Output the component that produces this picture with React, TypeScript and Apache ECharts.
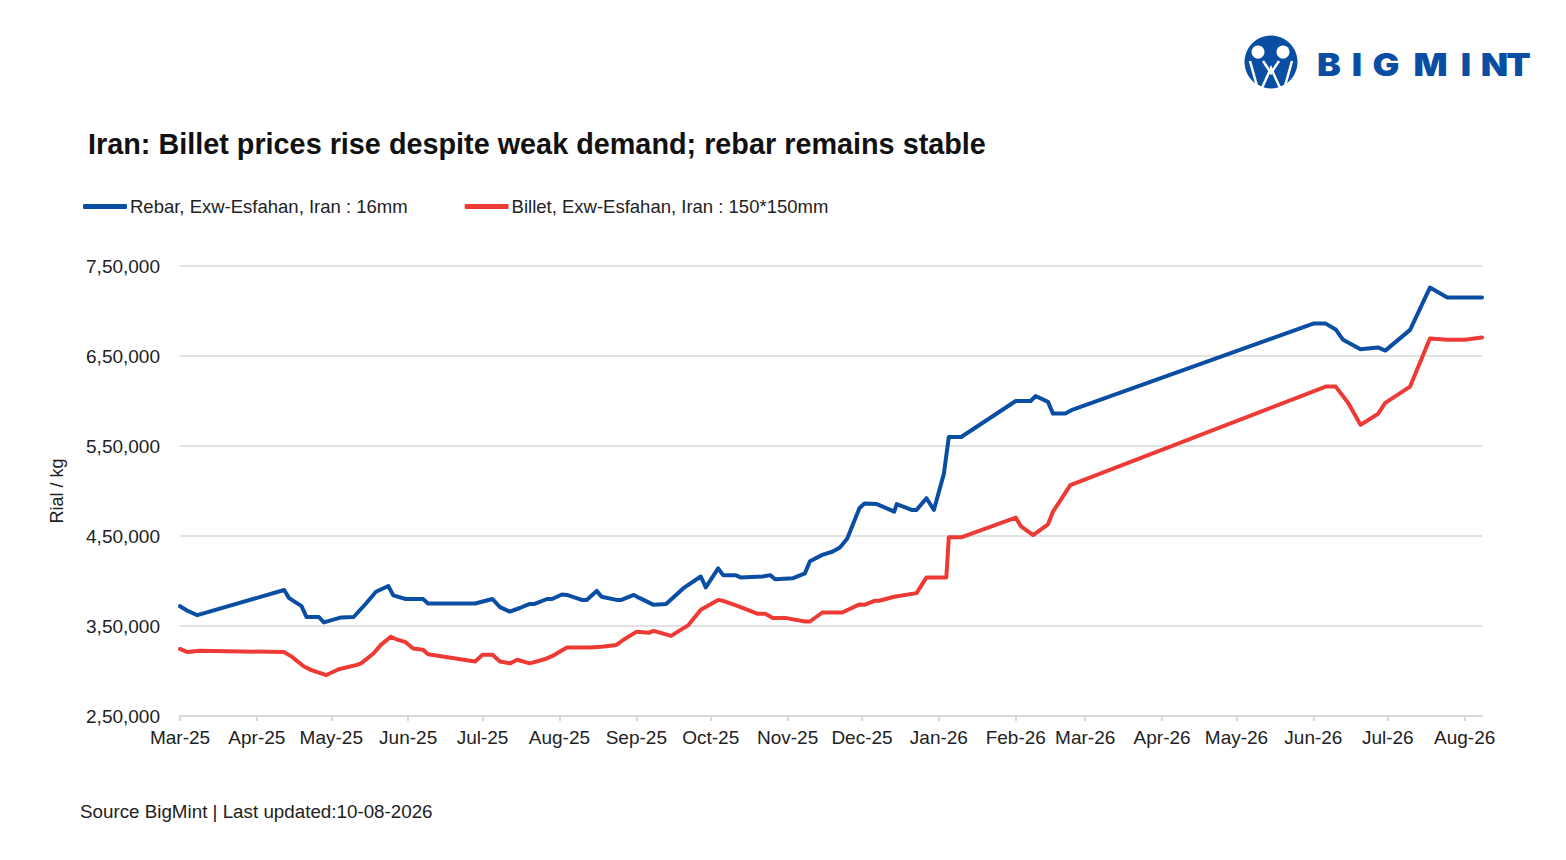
import React, { useEffect, useRef } from "react";
import * as echarts from "echarts";

const rebarDates = [
  "2025-03-01","2025-03-04","2025-03-08","2025-04-12","2025-04-14","2025-04-19","2025-04-21","2025-04-26","2025-04-28",
  "2025-05-05","2025-05-10","2025-05-15","2025-05-19","2025-05-24","2025-05-26","2025-05-31","2025-06-07","2025-06-09",
  "2025-06-28","2025-07-05","2025-07-08","2025-07-12","2025-07-16","2025-07-20","2025-07-22","2025-07-27","2025-07-29",
  "2025-08-02","2025-08-04","2025-08-10","2025-08-12","2025-08-16","2025-08-18","2025-08-24","2025-08-26","2025-08-31",
  "2025-09-02","2025-09-08","2025-09-13","2025-09-20","2025-09-27","2025-09-29","2025-10-04","2025-10-06","2025-10-11",
  "2025-10-13","2025-10-22","2025-10-25","2025-10-27","2025-11-03","2025-11-08","2025-11-10","2025-11-15","2025-11-19",
  "2025-11-22","2025-11-25","2025-11-30","2025-12-02","2025-12-07","2025-12-14","2025-12-15","2025-12-21","2025-12-23",
  "2025-12-27","2025-12-30","2026-01-03","2026-01-05","2026-01-10","2026-02-01","2026-02-07","2026-02-09","2026-02-14",
  "2026-02-16","2026-02-21","2026-02-24","2026-06-01","2026-06-06","2026-06-10","2026-06-13","2026-06-20","2026-06-27",
  "2026-06-30","2026-07-10","2026-07-18","2026-07-25","2026-08-08"
];
const rebarValues = [
  372000,367000,362000,390000,381000,372000,360000,360000,354000,
  359500,360000,375000,388000,394500,384000,380000,380000,375000,
  375000,380000,371000,366000,370000,374500,374500,380000,380000,
  385000,384500,379000,379000,389000,382500,379000,379000,384500,
  381500,373500,374500,392000,405000,393000,414000,406500,406500,
  404000,405000,406500,402000,403000,408500,422000,429000,432500,
  437000,447000,481000,486000,485500,477000,485500,479000,479000,
  492000,479000,519000,560000,560000,600000,600000,605500,599000,
  586000,586000,590500,686000,686000,679500,668000,657500,659500,
  656000,679000,726000,715000,715000
];

const billetDates = [
  "2025-03-01","2025-03-04","2025-03-09","2025-04-12","2025-04-15","2025-04-20","2025-04-23","2025-04-29","2025-05-04",
  "2025-05-11","2025-05-13","2025-05-18","2025-05-21","2025-05-25","2025-05-27","2025-05-31","2025-06-03","2025-06-07",
  "2025-06-09","2025-06-28","2025-07-01","2025-07-05","2025-07-08","2025-07-12","2025-07-15","2025-07-20","2025-07-26",
  "2025-07-29","2025-08-04","2025-08-13","2025-08-18","2025-08-24","2025-08-27","2025-09-01","2025-09-06","2025-09-08",
  "2025-09-15","2025-09-22","2025-09-27","2025-10-04","2025-10-06","2025-10-12","2025-10-20","2025-10-23","2025-10-26",
  "2025-10-31","2025-11-08","2025-11-10","2025-11-15","2025-11-23","2025-11-30","2025-12-02","2025-12-06","2025-12-08",
  "2025-12-14","2025-12-23","2025-12-27","2026-01-04","2026-01-05","2026-01-10","2026-02-01","2026-02-03","2026-02-08",
  "2026-02-14","2026-02-16","2026-02-23","2026-06-06","2026-06-10","2026-06-15","2026-06-20","2026-06-27","2026-06-30",
  "2026-07-10","2026-07-18","2026-07-25","2026-08-01","2026-08-08"
];
const billetValues = [
  324500,321000,322500,321000,316000,305000,301000,295500,302000,
  306500,308500,319500,329000,338000,335500,332000,325000,323500,
  318500,310500,318000,318000,310500,308500,312500,308500,313000,
  316500,326000,326000,327000,329000,335000,343500,342500,344500,
  339000,351000,368000,379000,378000,372000,363500,363500,359000,
  359000,355000,355000,365000,365000,374000,373500,378000,378000,
  382500,386500,404000,404000,448500,448500,470500,461000,451000,
  463000,477000,506500,616000,616000,598000,573500,585500,598000,
  616000,669500,668000,668000,670500
];

const seriesNames = ["Rebar, Exw-Esfahan, Iran : 16mm", "Billet, Exw-Esfahan, Iran : 150*150mm"];
const monthNames = ["Jan","Feb","Mar","Apr","May","Jun","Jul","Aug","Sep","Oct","Nov","Dec"];
const titleText = "Iran: Billet prices rise despite weak demand; rebar remains stable";
const sourceText = "Source BigMint | Last updated:10-08-2026";
const logoLetters = ["B","I","G","M","I","N","T"];
const logoLetterX = [1329, 1357, 1386, 1430.5, 1466, 1494.5, 1518.5];

function parseDate(s: string): number {
  const [y, m, d] = s.split("-").map(Number);
  return new Date(y, m - 1, d).getTime();
}

function indianFormat(v: number): string {
  const s = String(Math.round(v));
  if (s.length <= 3) return s;
  const last3 = s.slice(-3);
  let rest = s.slice(0, -3);
  const parts: string[] = [];
  while (rest.length > 2) {
    parts.unshift(rest.slice(-2));
    rest = rest.slice(0, -2);
  }
  if (rest.length) parts.unshift(rest);
  return parts.join(",") + "," + last3;
}

const FONT = "Liberation Sans";
const BLUE = "#0a4ea3";
const RED = "#ee3a35";

export default function App() {
  const ref = useRef<HTMLDivElement>(null);
  useEffect(() => {
    const chart = echarts.init(ref.current!, null, { renderer: "svg" });
    const day = 24 * 3600 * 1000;
    chart.setOption({
      animation: false,
      backgroundColor: "#ffffff",
      textStyle: { fontFamily: FONT },
      title: {
        text: titleText,
        left: 88,
        top: 129,
        padding: 0,
        textStyle: { fontFamily: FONT, fontWeight: "bold", fontSize: 28.8, color: "#111111" },
      },
      legend: {
        left: 83,
        top: 197,
        padding: 0,
        icon: "roundRect",
        itemWidth: 44,
        itemHeight: 5,
        itemGap: 57,
        textStyle: { fontFamily: FONT, fontSize: 18.5, color: "#222222", padding: [0, 0, 0, -2] },
        data: seriesNames,
      },
      grid: { left: 180, right: 84, top: 266, bottom: 144 },
      xAxis: {
        type: "time",
        min: parseDate("2025-03-01"),
        max: parseDate("2026-08-08"),
        minInterval: 28 * day,
        maxInterval: 31 * day,
        splitNumber: 18,
        splitLine: { show: false },
        axisLine: { lineStyle: { color: "#d9d9d9", width: 2 } },
        axisTick: { show: true, length: 5, lineStyle: { color: "#d9d9d9", width: 2 } },
        axisLabel: {
          color: "#222222",
          fontSize: 19,
          fontFamily: FONT,
          margin: 12,
          hideOverlap: false,
          showMinLabel: true,
          showMaxLabel: false,
          formatter: (val: number) => {
            const d = new Date(val);
            return monthNames[d.getMonth()] + "-" + String(d.getFullYear()).slice(2);
          },
        },
      },
      yAxis: {
        type: "value",
        min: 250000,
        max: 750000,
        interval: 100000,
        name: "Rial / kg",
        nameLocation: "middle",
        nameGap: 114,
        nameTextStyle: { fontSize: 18, color: "#222222", fontFamily: FONT },
        axisLine: { show: false },
        axisTick: { show: false },
        axisLabel: { color: "#222222", fontSize: 19, fontFamily: FONT, margin: 20, formatter: (v: number) => indianFormat(v) },
        splitLine: { lineStyle: { color: "#d9d9d9", width: 1.5 } },
      },
      series: [
        {
          name: seriesNames[0],
          type: "line",
          showSymbol: false,
          symbol: "none",
          color: BLUE,
          lineStyle: { width: 4, color: BLUE, join: "round", cap: "round" },
          data: rebarDates.map((d, i) => [parseDate(d), rebarValues[i]]),
        },
        {
          name: seriesNames[1],
          type: "line",
          showSymbol: false,
          symbol: "none",
          color: RED,
          lineStyle: { width: 4, color: RED, join: "round", cap: "round" },
          data: billetDates.map((d, i) => [parseDate(d), billetValues[i]]),
        },
      ],
      graphic: [
        {
          type: "text",
          left: 80,
          top: 802,
          style: { text: sourceText, fontSize: 18.8, fill: "#222222", fontFamily: FONT },
        },
        { type: "circle", shape: { cx: 1271, cy: 62, r: 26.5 }, style: { fill: BLUE } },
        { type: "circle", shape: { cx: 1258, cy: 52, r: 6.5 }, style: { fill: "#ffffff" } },
        { type: "circle", shape: { cx: 1283, cy: 52, r: 6.5 }, style: { fill: "#ffffff" } },
        {
          type: "polyline",
          shape: { points: [[1250, 61], [1257, 86], [1262, 88], [1271, 68], [1280, 88], [1285, 86], [1292, 61]] },
          style: { stroke: "#ffffff", lineWidth: 2.5, fill: "none" },
        },
        {
          type: "polyline",
          shape: { points: [[1263, 61], [1271, 73], [1279, 61]] },
          style: { stroke: "#ffffff", lineWidth: 2.5, fill: "none" },
        },
        ...logoLetters.map((ch, i) => ({
          type: "text",
          x: logoLetterX[i],
          y: 65,
          scaleX: 1.15,
          style: {
            text: ch,
            fontSize: 31,
            fontWeight: 900,
            fontFamily: "Inter",
            fill: BLUE,
            align: "center",
            verticalAlign: "middle",
          },
        })),
      ],
    });
    return () => chart.dispose();
  }, []);
  return (
    <div
      ref={ref}
      style={{ position: "fixed", left: 0, top: 0, width: 1566, height: 860, background: "#ffffff" }}
    />
  );
}
